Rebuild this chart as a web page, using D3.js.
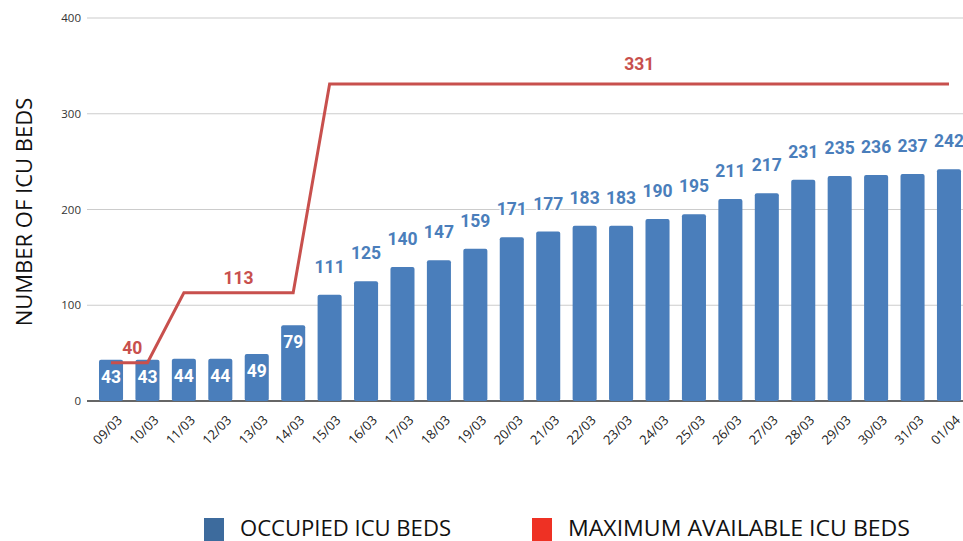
<!DOCTYPE html>
<html>
<head>
<meta charset="utf-8">
<script src="https://cdn.jsdelivr.net/npm/d3@7"></script>
<style>
  body { margin: 0; background: #fff; }
  svg { display: block; }
</style>
</head>
<body>
<svg id="chart" width="963" height="541"></svg>
<script>
// dates on the x axis
let days = ["09/03", "10/03", "11/03", "12/03", "13/03", "14/03", "15/03", "16/03",
    "17/03", "18/03", "19/03", "20/03", "21/03", "22/03", "23/03", "24/03",
    "25/03", "26/03", "27/03", "28/03", "29/03", "30/03", "31/03", "01/04"];

// occupied ICU beds
let occupied = [43, 43, 44, 44, 49, 79, 111, 125, 140, 147, 159, 171, 177, 183,
    183, 190, 195, 211, 217, 231, 235, 236, 237, 242];

// maximum available ICU beds
let maxAvail = [40, 40, 113, 113, 113, 113, 331, 331, 331, 331, 331, 331, 331, 331,
    331, 331, 331, 331, 331, 331, 331, 331, 331, 331];

let yTicks = [0, 100, 200, 300, 400];

let barColor = "#4a7ebb";
let lineColor = "#c8504d";

let svg = d3.select("#chart");

let x = d3.scaleBand()
    .domain(days)
    .range([92.8, 967.2])
    .paddingInner(0.34)
    .paddingOuter(0.17);

let y = d3.scaleLinear()
    .domain([0, 400])
    .range([401, 18]);

// gridlines
svg.append("g")
    .selectAll("line")
    .data(yTicks)
    .join("line")
    .attr("x1", 87)
    .attr("x2", 963)
    .attr("y1", d => y(d))
    .attr("y2", d => y(d))
    .attr("stroke", d => d === 0 ? "#333" : "#ccc")
    .attr("stroke-width", d => d === 0 ? 1.3 : 1.2);

// y axis labels
let yAxis = svg.append("g")
    .attr("transform", "translate(81,0)")
    .call(d3.axisLeft(y).tickValues(yTicks).tickSize(0).tickPadding(0));
yAxis.select(".domain").remove();
yAxis.selectAll("text")
    .attr("font-family", "'Open Sans', sans-serif")
    .attr("font-size", 11.5)
    .attr("fill", "#333");

// x axis labels
let xAxis = svg.append("g")
    .attr("transform", "translate(0,401)")
    .call(d3.axisBottom(x).tickSize(0).tickPadding(0));
xAxis.select(".domain").remove();
xAxis.selectAll("text")
    .attr("font-family", "'Open Sans', sans-serif")
    .attr("font-size", 13)
    .attr("fill", "#222")
    .attr("text-anchor", "end")
    .attr("dy", 0)
    .attr("transform", "translate(12,20) rotate(-45)");

// bars
svg.append("g")
    .selectAll("rect")
    .data(occupied)
    .join("rect")
    .attr("x", (d, i) => x(days[i]))
    .attr("y", d => y(d))
    .attr("width", x.bandwidth())
    .attr("height", d => y(0) - y(d))
    .attr("rx", 2)
    .attr("fill", barColor);

// bar labels
svg.append("g")
    .selectAll("text")
    .data(occupied)
    .join("text")
    .attr("x", (d, i) => x(days[i]) + x.bandwidth() / 2)
    .attr("y", d => d < 100 ? y(d) + 23 : y(d) - 22)
    .attr("text-anchor", "middle")
    .attr("font-family", "Roboto, sans-serif")
    .attr("font-weight", "bold")
    .attr("font-size", 17.5)
    .attr("fill", d => d < 100 ? "#fff" : barColor)
    .attr("stroke", d => d < 100 ? "none" : "#fff")
    .attr("stroke-width", 3)
    .attr("paint-order", "stroke")
    .text(d => d);

// max available line
let line = d3.line()
    .x((d, i) => x(days[i]) + x.bandwidth() / 2)
    .y(d => y(d));

svg.append("path")
    .datum(maxAvail)
    .attr("d", line)
    .attr("fill", "none")
    .attr("stroke", lineColor)
    .attr("stroke-width", 3)
    .attr("stroke-linejoin", "miter");

// one label per flat run of the line
let runs = [];
maxAvail.forEach((v, i) => {
    let last = runs[runs.length - 1];
    if (last && last.value === v) last.end = i;
    else runs.push({ value: v, start: i, end: i });
});

svg.append("g")
    .selectAll("text")
    .data(runs)
    .join("text")
    .attr("x", d => (x(days[d.start]) + x(days[d.end])) / 2 + x.bandwidth() / 2 + (d.end - d.start < 2 ? 3 : 0))
    .attr("y", d => y(d.value) - (d.value > 300 ? 14 : 9))
    .attr("text-anchor", "middle")
    .attr("font-family", "Roboto, sans-serif")
    .attr("font-weight", "bold")
    .attr("font-size", 17.5)
    .attr("fill", lineColor)
    .text(d => d.value);

// y title
svg.append("text")
    .attr("transform", "translate(32,212) rotate(-90)")
    .attr("text-anchor", "middle")
    .attr("font-family", "'Open Sans', sans-serif")
    .attr("font-size", 22)
    .attr("fill", "#111")
    .text("NUMBER OF ICU BEDS");

// legend
let legend = [
    { name: "OCCUPIED ICU BEDS", color: "#3d6b9d", x: 204, len: 211 },
    { name: "MAXIMUM AVAILABLE ICU BEDS", color: "#ee3124", x: 532, len: 342 }
];

let lg = svg.append("g")
    .selectAll("g")
    .data(legend)
    .join("g")
    .attr("transform", d => `translate(${d.x},518)`);

lg.append("rect")
    .attr("width", 20)
    .attr("height", 23)
    .attr("fill", d => d.color);

lg.append("text")
    .attr("x", 36)
    .attr("y", 17.5)
    .attr("font-family", "'Open Sans', sans-serif")
    .attr("font-size", 22)
    .attr("textLength", d => d.len)
    .attr("lengthAdjust", "spacingAndGlyphs")
    .attr("fill", "#111")
    .text(d => d.name);
</script>
</body>
</html>
